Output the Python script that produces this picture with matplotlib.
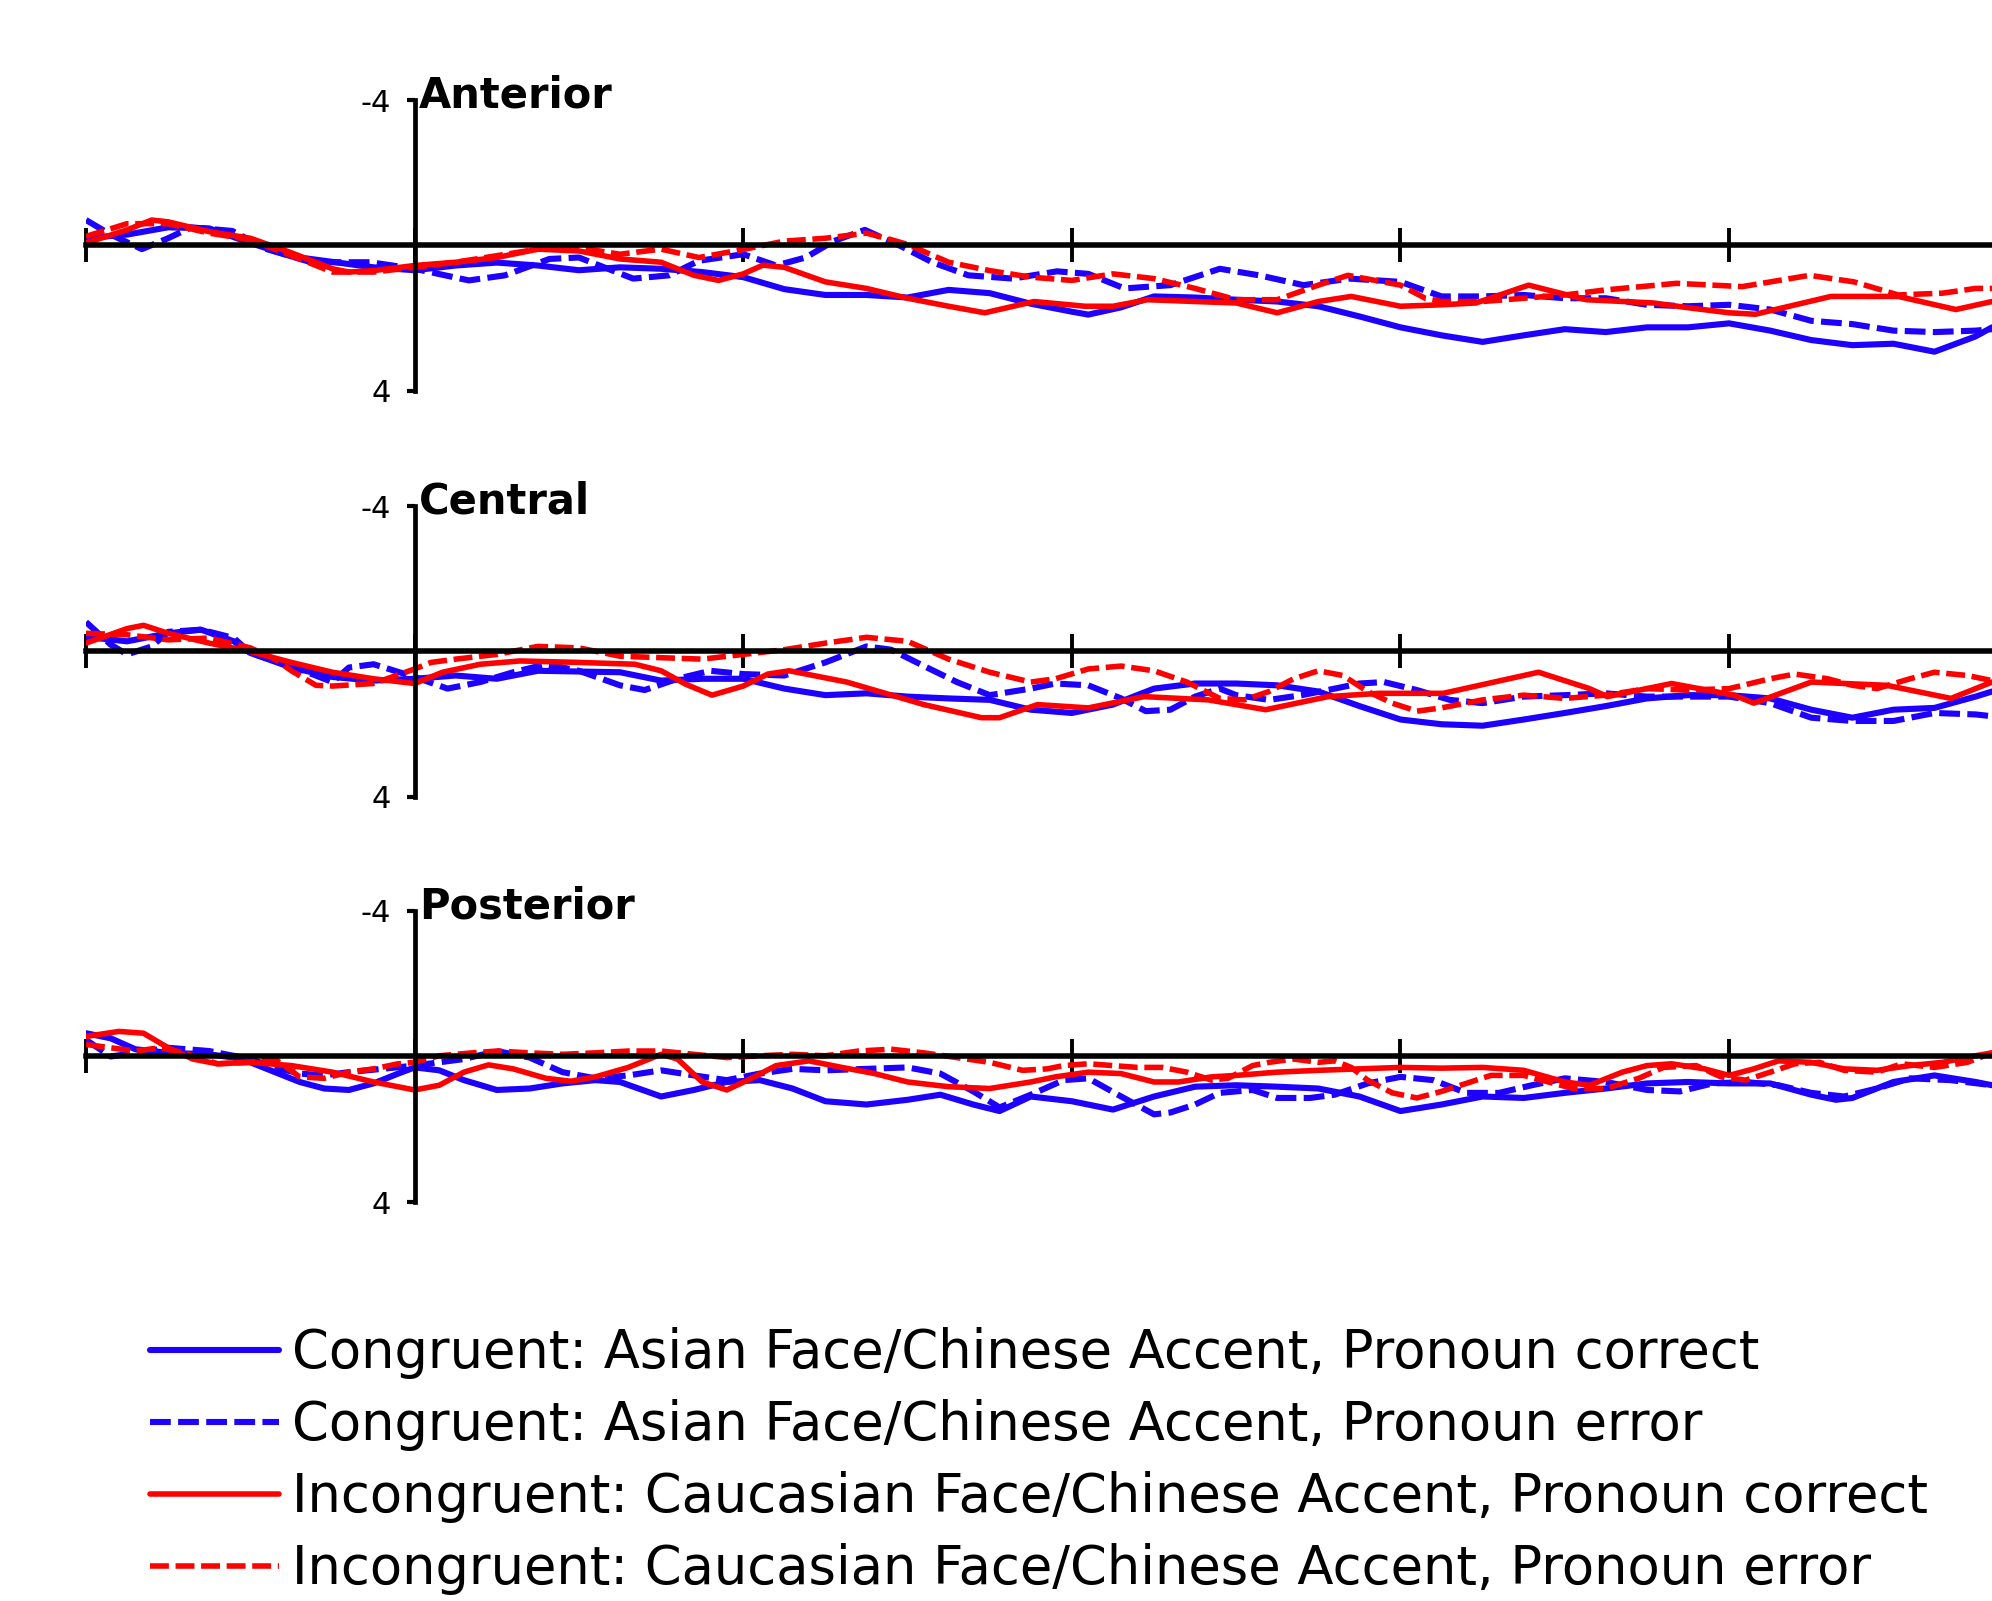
import matplotlib
matplotlib.use('Agg')
import matplotlib.pyplot as plt

# ERP waveforms: (time in ms, amplitude in microvolts)
# negative is plotted up, as in the original

ant_con_correct = [(-200, -0.2), (-175, -0.3), (-150, -0.5), (-125, -0.47), (-100, -0.07), (-75, 0.3),
                   (-50, 0.45), (-25, 0.6), (0, 0.68), (25, 0.55), (50, 0.47), (75, 0.55), (100, 0.68),
                   (125, 0.6), (150, 0.64), (175, 0.73), (200, 0.87), (225, 1.2), (250, 1.36), (275, 1.36),
                   (300, 1.43), (325, 1.22), (350, 1.31), (375, 1.6), (400, 1.82), (410, 1.9), (430, 1.7),
                   (450, 1.4), (475, 1.43), (500, 1.49), (525, 1.54), (550, 1.67), (575, 1.95), (600, 2.25),
                   (625, 2.47), (650, 2.65), (675, 2.47), (700, 2.3), (725, 2.38), (750, 2.25), (775, 2.25),
                   (800, 2.14), (825, 2.34), (850, 2.6), (875, 2.74), (900, 2.7), (925, 2.92), (950, 2.5),
                   (960, 2.25)]
ant_con_error = [(-200, -0.7), (-185, -0.3), (-166, 0.1), (-150, -0.2), (-136, -0.5), (-111, -0.4), (-90, 0.1),
                 (-63, 0.46), (-27, 0.46), (0, 0.64), (33, 0.96), (55, 0.82), (82, 0.37), (100, 0.33),
                 (133, 0.91), (155, 0.82), (173, 0.42), (200, 0.24), (220, 0.55), (238, 0.33), (255, -0.12),
                 (274, -0.43), (296, 0.02), (315, 0.46), (337, 0.82), (364, 0.91), (391, 0.71), (410, 0.78),
                 (432, 1.18), (460, 1.09), (490, 0.64), (514, 0.82), (541, 1.09), (569, 0.91), (600, 1.0),
                 (625, 1.4), (650, 1.4), (675, 1.36), (700, 1.45), (725, 1.45), (750, 1.63), (775, 1.67),
                 (800, 1.63), (825, 1.76), (850, 2.07), (875, 2.16), (900, 2.34), (925, 2.38), (950, 2.34),
                 (960, 2.3)]
ant_inc_correct = [(-200, -0.07), (-175, -0.43), (-160, -0.7), (-150, -0.65), (-125, -0.38), (-100, -0.2),
                   (-75, 0.2), (-50, 0.64), (-40, 0.73), (-25, 0.69), (0, 0.55), (25, 0.46), (50, 0.33),
                   (75, 0.1), (100, 0.15), (125, 0.37), (150, 0.46), (170, 0.82), (185, 0.96), (200, 0.78),
                   (212, 0.54), (225, 0.6), (250, 1.0), (275, 1.18), (300, 1.45), (325, 1.67), (347, 1.85),
                   (377, 1.54), (408, 1.67), (425, 1.67), (446, 1.49), (475, 1.54), (500, 1.58), (525, 1.85),
                   (550, 1.54), (570, 1.4), (600, 1.67), (625, 1.63), (646, 1.58), (678, 1.09), (713, 1.49),
                   (754, 1.58), (775, 1.71), (800, 1.85), (816, 1.89), (862, 1.4), (903, 1.4), (938, 1.76),
                   (960, 1.54)]
ant_inc_error = [(-200, -0.25), (-175, -0.6), (-150, -0.6), (-125, -0.34), (-100, -0.16), (-75, 0.28),
                 (-50, 0.73), (-25, 0.73), (0, 0.6), (25, 0.46), (50, 0.28), (75, 0.1), (100, 0.06), (125, 0.24),
                 (150, 0.1), (173, 0.33), (200, 0.11), (225, -0.12), (250, -0.2), (275, -0.34), (290, -0.16),
                 (300, -0.03), (325, 0.46), (350, 0.69), (375, 0.87), (400, 0.96), (425, 0.78), (450, 0.91),
                 (475, 1.18), (500, 1.49), (525, 1.49), (550, 1.09), (568, 0.82), (600, 1.09), (615, 1.45),
                 (625, 1.54), (650, 1.54), (675, 1.45), (700, 1.36), (725, 1.22), (768, 1.04), (808, 1.13),
                 (849, 0.82), (876, 1.0), (903, 1.36), (930, 1.31), (950, 1.18), (960, 1.18)]

cen_con_correct = [(-200, -0.4), (-175, -0.28), (-150, -0.5), (-130, -0.6), (-110, -0.28), (-100, 0.04),
                   (-75, 0.44), (-50, 0.7), (-25, 0.8), (0, 0.75), (25, 0.66), (50, 0.75), (75, 0.53),
                   (100, 0.55), (125, 0.57), (150, 0.8), (175, 0.75), (200, 0.75), (225, 1.02), (250, 1.2),
                   (275, 1.15), (300, 1.24), (325, 1.29), (350, 1.33), (375, 1.6), (400, 1.69), (425, 1.46),
                   (450, 1.02), (475, 0.88), (500, 0.88), (525, 0.93), (550, 1.1), (575, 1.5), (600, 1.87),
                   (625, 2.0), (650, 2.04), (675, 1.87), (700, 1.69), (725, 1.5), (750, 1.29), (775, 1.2),
                   (800, 1.2), (825, 1.29), (850, 1.6), (875, 1.82), (900, 1.6), (925, 1.55), (950, 1.24),
                   (960, 1.1)]
cen_con_error = [(-200, -0.81), (-185, -0.19), (-175, 0.08), (-160, -0.14), (-150, -0.54), (-130, -0.6),
                 (-110, -0.37), (-100, 0.04), (-75, 0.4), (-50, 0.84), (-40, 0.44), (-25, 0.35), (0, 0.7),
                 (20, 1.02), (40, 0.84), (60, 0.57), (80, 0.35), (100, 0.53), (125, 0.93), (140, 1.06),
                 (160, 0.75), (180, 0.53), (200, 0.62), (225, 0.66), (250, 0.3), (275, -0.14), (290, -0.05),
                 (310, 0.4), (330, 0.84), (350, 1.2), (375, 1.02), (390, 0.88), (410, 0.93), (430, 1.29),
                 (445, 1.64), (460, 1.6), (475, 1.24), (490, 1.02), (500, 1.2), (520, 1.33), (540, 1.2),
                 (560, 1.02), (575, 0.88), (590, 0.84), (610, 1.06), (630, 1.33), (650, 1.42), (675, 1.24),
                 (700, 1.2), (725, 1.15), (750, 1.24), (775, 1.24), (800, 1.24), (825, 1.42), (850, 1.82),
                 (875, 1.91), (900, 1.91), (925, 1.69), (950, 1.73), (960, 1.78)]
cen_inc_correct = [(-200, -0.23), (-175, -0.63), (-165, -0.72), (-150, -0.5), (-125, -0.23), (-100, 0.0),
                   (-75, 0.3), (-50, 0.57), (-25, 0.75), (0, 0.88), (17, 0.57), (40, 0.35), (64, 0.26),
                   (100, 0.3), (134, 0.35), (150, 0.53), (165, 0.9), (181, 1.2), (200, 0.95), (215, 0.62),
                   (228, 0.53), (263, 0.84), (310, 1.46), (345, 1.82), (356, 1.82), (379, 1.46), (410, 1.55),
                   (444, 1.24), (483, 1.33), (518, 1.6), (556, 1.24), (587, 1.15), (626, 1.15), (657, 0.84),
                   (684, 0.57), (715, 1.02), (726, 1.24), (765, 0.88), (803, 1.2), (815, 1.42), (850, 0.84),
                   (896, 0.93), (935, 1.29), (960, 0.84)]
cen_inc_error = [(-200, -0.5), (-175, -0.46), (-150, -0.32), (-125, -0.37), (-100, -0.1), (-85, 0.21),
                 (-75, 0.53), (-60, 0.93), (-50, 0.95), (-25, 0.88), (0, 0.48), (10, 0.3), (25, 0.21),
                 (50, 0.08), (75, -0.14), (100, -0.1), (125, 0.13), (150, 0.17), (175, 0.21), (200, 0.08),
                 (225, -0.05), (250, -0.23), (275, -0.39), (300, -0.28), (325, 0.21), (350, 0.57), (375, 0.84),
                 (390, 0.75), (410, 0.48), (430, 0.4), (450, 0.53), (470, 0.84), (490, 1.29), (505, 1.33),
                 (520, 1.1), (535, 0.75), (550, 0.53), (565, 0.66), (580, 1.1), (595, 1.42), (610, 1.64),
                 (625, 1.55), (650, 1.33), (675, 1.2), (700, 1.29), (725, 1.2), (750, 1.02), (775, 1.06),
                 (800, 1.02), (825, 0.75), (840, 0.62), (860, 0.75), (875, 0.93), (890, 1.02), (910, 0.75),
                 (925, 0.57), (945, 0.66), (960, 0.8)]

pos_con_correct = [(-200, -0.64), (-185, -0.5), (-170, -0.2), (-150, -0.1), (-125, -0.06), (-110, 0.03),
                   (-100, 0.16), (-85, 0.43), (-70, 0.7), (-55, 0.88), (-40, 0.92), (-25, 0.74), (-10, 0.47),
                   (0, 0.3), (15, 0.38), (30, 0.65), (50, 0.92), (70, 0.88), (90, 0.74), (110, 0.65), (125, 0.7),
                   (150, 1.1), (170, 0.92), (190, 0.7), (210, 0.65), (230, 0.88), (250, 1.23), (275, 1.32),
                   (300, 1.19), (320, 1.05), (340, 1.32), (356, 1.5), (375, 1.1), (400, 1.23), (425, 1.46),
                   (450, 1.1), (475, 0.83), (500, 0.79), (525, 0.83), (550, 0.88), (575, 1.1), (600, 1.5),
                   (625, 1.32), (650, 1.1), (675, 1.14), (700, 1.0), (725, 0.88), (750, 0.74), (775, 0.7),
                   (800, 0.74), (825, 0.74), (850, 1.05), (865, 1.19), (875, 1.14), (900, 0.7), (925, 0.52),
                   (950, 0.7), (960, 0.79)]
pos_con_error = [(-200, -0.46), (-185, 0.0), (-170, -0.1), (-150, -0.24), (-125, -0.15), (-100, 0.07),
                 (-85, 0.3), (-70, 0.47), (-55, 0.52), (-40, 0.43), (-20, 0.34), (0, 0.25), (15, 0.16),
                 (30, 0.07), (50, -0.15), (70, 0.03), (90, 0.43), (110, 0.6), (130, 0.52), (150, 0.38),
                 (170, 0.52), (190, 0.65), (210, 0.47), (230, 0.34), (250, 0.38), (275, 0.34), (300, 0.3),
                 (320, 0.47), (340, 0.96), (356, 1.4), (375, 1.05), (395, 0.65), (410, 0.6), (430, 1.1),
                 (450, 1.59), (460, 1.54), (475, 1.32), (490, 1.0), (510, 0.92), (525, 1.14), (545, 1.14),
                 (560, 1.05), (580, 0.74), (600, 0.56), (620, 0.65), (640, 1.0), (660, 1.0), (680, 0.79),
                 (700, 0.6), (725, 0.7), (750, 0.92), (770, 0.96), (790, 0.74), (810, 0.7), (830, 0.79),
                 (850, 1.0), (870, 1.1), (890, 0.88), (910, 0.6), (935, 0.65), (960, 0.79)]
pos_inc_correct = [(-200, -0.55), (-180, -0.69), (-165, -0.64), (-150, -0.24), (-135, 0.07), (-120, 0.2),
                   (-100, 0.16), (-75, 0.25), (-50, 0.43), (-25, 0.7), (0, 0.92), (15, 0.79), (30, 0.43),
                   (45, 0.23), (60, 0.34), (80, 0.6), (95, 0.68), (110, 0.56), (130, 0.3), (150, -0.06),
                   (160, 0.07), (175, 0.7), (190, 0.92), (205, 0.6), (220, 0.25), (240, 0.12), (260, 0.3),
                   (280, 0.47), (300, 0.7), (325, 0.83), (350, 0.88), (375, 0.7), (390, 0.56), (410, 0.43),
                   (430, 0.47), (450, 0.7), (465, 0.7), (485, 0.56), (500, 0.52), (525, 0.43), (550, 0.38),
                   (575, 0.34), (600, 0.3), (625, 0.32), (650, 0.3), (675, 0.38), (700, 0.7), (715, 0.79),
                   (735, 0.43), (750, 0.25), (765, 0.2), (785, 0.34), (800, 0.52), (815, 0.34), (830, 0.12),
                   (850, 0.16), (870, 0.34), (890, 0.38), (910, 0.25), (930, 0.16), (950, -0.02), (960, -0.1)]
pos_inc_error = [(-200, -0.33), (-185, -0.24), (-170, -0.15), (-155, -0.24), (-140, -0.1), (-120, 0.2),
                 (-100, 0.16), (-85, 0.07), (-70, 0.56), (-55, 0.6), (-40, 0.43), (-25, 0.34), (-10, 0.2),
                 (0, 0.16), (15, -0.02), (35, -0.1), (50, -0.15), (70, -0.1), (90, -0.06), (110, -0.1),
                 (130, -0.15), (150, -0.15), (170, -0.06), (190, 0.03), (210, -0.02), (230, -0.06),
                 (250, -0.02), (270, -0.15), (290, -0.2), (310, -0.1), (330, 0.03), (350, 0.16), (370, 0.38),
                 (385, 0.34), (395, 0.25), (410, 0.2), (425, 0.25), (440, 0.3), (455, 0.3), (470, 0.43),
                 (485, 0.65), (495, 0.6), (510, 0.25), (520, 0.16), (535, 0.07), (550, 0.16), (560, 0.12),
                 (570, 0.3), (580, 0.65), (595, 1.0), (610, 1.14), (625, 0.96), (640, 0.74), (655, 0.52),
                 (675, 0.52), (690, 0.7), (705, 0.88), (725, 0.88), (745, 0.6), (760, 0.3), (780, 0.25),
                 (795, 0.56), (810, 0.65), (825, 0.43), (840, 0.2), (855, 0.16), (870, 0.38), (890, 0.43),
                 (905, 0.2), (925, 0.3), (945, 0.16), (960, -0.1)]

panel_names = ['Anterior', 'Central', 'Posterior']
panels = [
    [ant_con_correct, ant_con_error, ant_inc_correct, ant_inc_error],
    [cen_con_correct, cen_con_error, cen_inc_correct, cen_inc_error],
    [pos_con_correct, pos_con_error, pos_inc_correct, pos_inc_error],
]
labels = [
    'Congruent: Asian Face/Chinese Accent, Pronoun correct',
    'Congruent: Asian Face/Chinese Accent, Pronoun error',
    'Incongruent: Caucasian Face/Chinese Accent, Pronoun correct',
    'Incongruent: Caucasian Face/Chinese Accent, Pronoun error',
]
x_ticks = [-200, 0, 200, 400, 600, 800]

BLUE = '#1e00ff'
RED = '#ff0000'
styles = [
    dict(color=BLUE, lw=4.4, ls='-'),
    dict(color=BLUE, lw=4.4, ls=(0, (3.4, 1.2))),
    dict(color=RED, lw=4.0, ls='-'),
    dict(color=RED, lw=4.0, ls=(0, (3.4, 1.2))),
]

W, H = 1992, 1601
fig = plt.figure(figsize=(W / 100, H / 100), dpi=100)
left = 86 / W
tops = [100, 506, 911]
ph = 291

handles = []
for i, name in enumerate(panel_names):
    ax = fig.add_axes([left, 1 - (tops[i] + ph) / H, 1 - left, ph / H])
    for data, st in zip(panels[i], styles):
        t, v = zip(*data)
        ln, = ax.plot(t, v, solid_joinstyle='round', solid_capstyle='round',
                      dash_capstyle='butt', **st)
        if i == 0:
            handles.append(ln)
    ax.set_xlim(-200, 960)
    ax.set_ylim(4, -4)
    ax.patch.set_visible(False)
    for s in ['top', 'right']:
        ax.spines[s].set_visible(False)
    ax.spines['bottom'].set_position(('data', 0))
    ax.spines['left'].set_position(('data', 0))
    ax.spines['left'].set_bounds(-4, 4)
    ax.spines['bottom'].set_linewidth(4.0)
    ax.spines['left'].set_linewidth(3.4)
    ax.set_xticks(x_ticks)
    ax.tick_params(axis='x', direction='inout', length=24, width=2.8, labelbottom=False)
    ax.set_yticks([-4, 4])
    ax.set_yticklabels(['-4', '4'])
    ax.tick_params(axis='y', direction='out', length=6, width=3, pad=11, labelsize=22)
    ax.annotate(name, xy=(0, -4), xytext=(3, 3), textcoords='offset points',
                fontsize=30, fontweight='bold', va='center', ha='left')

fig.legend(handles, labels, loc='upper left', bbox_to_anchor=(150 / W, 1 - 1327 / H),
           frameon=False, fontsize=38, handlelength=2.44, handletextpad=0.25,
           labelspacing=0.38, borderpad=0, borderaxespad=0)

fig.savefig('out.png', dpi=100)
